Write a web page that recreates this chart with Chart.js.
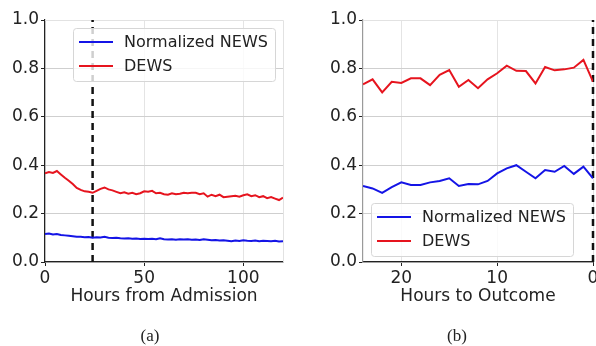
<!DOCTYPE html>
<html>
<head>
<meta charset="utf-8">
<script src="https://cdn.jsdelivr.net/npm/chart.js@4"></script>
<style>
  html, body { margin: 0; padding: 0; background: #fff; overflow: hidden; width: 596px; height: 346px; }
  #wrapA { position: absolute; left: 0; top: 0; width: 298px; height: 346px; }
  #wrapB { position: absolute; left: 298px; top: 0; width: 330px; height: 346px; }
  .cap { position: absolute; top: 326px; font-family: "Liberation Serif", serif; font-size: 17px; color: #222; transform: translateX(-50%); }
</style>
</head>
<body>
<div id="wrapA"><canvas id="admitChart" width="298" height="346"></canvas></div>
<div id="wrapB"><canvas id="outcomeChart" width="330" height="346"></canvas></div>
<div class="cap" style="left:150px">(a)</div>
<div class="cap" style="left:457px">(b)</div>
<script>
// values
const admitHours = [0, 2, 4, 6, 8, 10, 12, 14, 16, 18, 20, 22, 24, 26, 28, 30, 32, 34, 36, 38, 40,
  42, 44, 46, 48, 50, 52, 54, 56, 58, 60, 62, 64, 66, 68, 70, 72, 74, 76, 78, 80,
  82, 84, 86, 88, 90, 92, 94, 96, 98, 100, 102, 104, 106, 108, 110, 112, 114, 116, 118, 120];
const admitNews = [0.116, 0.118, 0.114, 0.116, 0.112, 0.110, 0.108, 0.106, 0.104, 0.104, 0.102,
  0.103, 0.100, 0.102, 0.101, 0.104, 0.100, 0.099, 0.100, 0.098, 0.097,
  0.098, 0.096, 0.097, 0.095, 0.096, 0.095, 0.096, 0.094, 0.098, 0.094,
  0.093, 0.094, 0.092, 0.094, 0.093, 0.094, 0.092, 0.093, 0.091, 0.094,
  0.092, 0.090, 0.091, 0.089, 0.090, 0.088, 0.086, 0.089, 0.087, 0.090,
  0.088, 0.087, 0.089, 0.086, 0.088, 0.087, 0.086, 0.088, 0.085, 0.086];
const admitDews = [0.366, 0.372, 0.368, 0.376, 0.362, 0.348, 0.336, 0.322, 0.306, 0.298, 0.292,
  0.290, 0.286, 0.294, 0.302, 0.308, 0.300, 0.296, 0.290, 0.284, 0.288,
  0.282, 0.286, 0.280, 0.284, 0.292, 0.290, 0.294, 0.284, 0.286, 0.280,
  0.278, 0.284, 0.280, 0.282, 0.286, 0.284, 0.286, 0.286, 0.280, 0.284,
  0.270, 0.278, 0.272, 0.278, 0.268, 0.270, 0.272, 0.274, 0.270, 0.276,
  0.280, 0.272, 0.276, 0.268, 0.272, 0.264, 0.268, 0.262, 0.256, 0.266];

const outcomeHours = [24, 23, 22, 21, 20, 19, 18, 17, 16, 15, 14, 13, 12, 11, 10, 9, 8, 7, 6, 5, 4, 3, 2, 1, 0];
const outcomeNews = [0.314, 0.304, 0.286, 0.309, 0.329, 0.318, 0.318, 0.329, 0.335, 0.346, 0.314, 0.322,
  0.321, 0.335, 0.366, 0.387, 0.400, 0.373, 0.346, 0.380, 0.373, 0.397, 0.364, 0.394, 0.346];
const outcomeDews = [0.734, 0.755, 0.701, 0.745, 0.740, 0.759, 0.759, 0.731, 0.773, 0.793, 0.724, 0.752,
  0.718, 0.755, 0.780, 0.811, 0.790, 0.789, 0.738, 0.806, 0.792, 0.796, 0.803, 0.835, 0.745];

const seriesNames = ['Normalized NEWS', 'DEWS'];
const yTicks = [0, 0.2, 0.4, 0.6, 0.8, 1.0];
const admitTicks = [0, 50, 100];
const outcomeTicks = [20, 10, 0];
const admitMarker = 24;
const outcomeMarker = 0;

const BLUE = '#1414e6';
const RED = '#e6141e';
const FONT = "'DejaVu Sans', sans-serif";

const toPoints = (xs, ys) => xs.map((x, i) => ({ x, y: ys[i] }));

// legend drawn inside the plot area, like the matplotlib one
const insideLegend = {
  id: 'insideLegend',
  afterDatasetsDraw(chart, args, opts) {
    const { ctx, chartArea: a } = chart;
    const items = chart.data.datasets.filter(d => d.label);
    const w = 202, h = 53;
    const x = opts.corner === 'upper right' ? a.right - 8 - w : a.left + 8;
    const y = opts.corner === 'upper right' ? a.top + 8 : a.bottom - 6 - h;
    ctx.save();
    ctx.fillStyle = 'rgba(255,255,255,0.8)';
    ctx.strokeStyle = '#d6d6d6';
    ctx.lineWidth = 1;
    ctx.beginPath();
    ctx.roundRect(x + 0.5, y + 0.5, w, h, 3);
    ctx.fill();
    ctx.stroke();
    ctx.font = '16px ' + FONT;
    ctx.textBaseline = 'middle';
    items.forEach((d, i) => {
      const cy = y + 14 + i * 24;
      ctx.strokeStyle = d.borderColor;
      ctx.lineWidth = 2;
      ctx.beginPath();
      ctx.moveTo(x + 6, cy);
      ctx.lineTo(x + 40, cy);
      ctx.stroke();
      ctx.fillStyle = '#222';
      ctx.fillText(d.label, x + 51, cy + 1);
    });
    ctx.restore();
  }
};

// faint top/right frame
const frame = {
  id: 'frame',
  beforeDatasetsDraw(chart) {
    const { ctx, chartArea: a } = chart;
    ctx.save();
    ctx.strokeStyle = '#e2e2e2';
    ctx.lineWidth = 1;
    ctx.beginPath();
    ctx.moveTo(a.left, a.top + 0.5);
    ctx.lineTo(a.right + 0.5, a.top + 0.5);
    ctx.lineTo(a.right + 0.5, a.bottom);
    ctx.stroke();
    ctx.restore();
  }
};

function buildChart(id, cfg) {
  const ctx = document.getElementById(id).getContext('2d');
  return new Chart(ctx, {
    type: 'line',
    data: {
      datasets: [
        { label: seriesNames[0], data: toPoints(cfg.hours, cfg.news), borderColor: BLUE, borderWidth: 2, pointRadius: 0, tension: 0 },
        { label: seriesNames[1], data: toPoints(cfg.hours, cfg.dews), borderColor: RED, borderWidth: 2, pointRadius: 0, tension: 0 },
        { data: [{ x: cfg.marker, y: 0 }, { x: cfg.marker, y: 1 }], borderColor: '#111', borderWidth: 2.5,
          borderDash: [7, 5], pointRadius: 0, clip: 10 }
      ]
    },
    options: {
      responsive: false,
      animation: false,
      layout: { padding: { top: 20, right: cfg.padRight, bottom: 36, left: 0 } },
      plugins: {
        legend: { display: false },
        tooltip: { enabled: false },
        insideLegend: { corner: cfg.corner }
      },
      scales: {
        x: {
          type: 'linear',
          min: cfg.min, max: cfg.max, reverse: cfg.reverse,
          afterBuildTicks: s => { s.ticks = cfg.ticks.map(v => ({ value: v })); },
          afterFit: s => { s.height = 48; },
          ticks: { color: '#222', font: { family: FONT, size: 17 }, padding: 2, maxRotation: 0 },
          grid: { color: '#e4e4e4', tickColor: '#222', tickLength: 4 },
          border: { color: '#222', width: 1.2 },
          title: { display: true, text: cfg.title, color: '#222', font: { family: FONT, size: 17 }, padding: { top: 0, bottom: 3 } }
        },
        y: {
          min: 0, max: 1,
          afterBuildTicks: s => { s.ticks = yTicks.map(v => ({ value: v })); },
          afterFit: s => { s.width = cfg.yWidth; },
          ticks: { color: '#222', font: { family: FONT, size: 17 }, padding: 2, callback: v => v.toFixed(1) },
          grid: { color: '#cfcfcf', tickColor: '#222', tickLength: 4 },
          border: { color: cfg.yBorder, width: 1.2 }
        }
      }
    },
    plugins: [frame, insideLegend]
  });
}

buildChart('admitChart', {
  hours: admitHours, news: admitNews, dews: admitDews, marker: admitMarker,
  min: 0, max: 120, reverse: false, ticks: admitTicks, title: 'Hours from Admission',
  yWidth: 45, padRight: 15, corner: 'upper right', yBorder: '#222'
});

buildChart('outcomeChart', {
  hours: outcomeHours, news: outcomeNews, dews: outcomeDews, marker: outcomeMarker,
  min: 0, max: 24, reverse: true, ticks: outcomeTicks, title: 'Hours to Outcome',
  yWidth: 65, padRight: 35, corner: 'lower left', yBorder: '#9a9a9a'
});
</script>
</body>
</html>
